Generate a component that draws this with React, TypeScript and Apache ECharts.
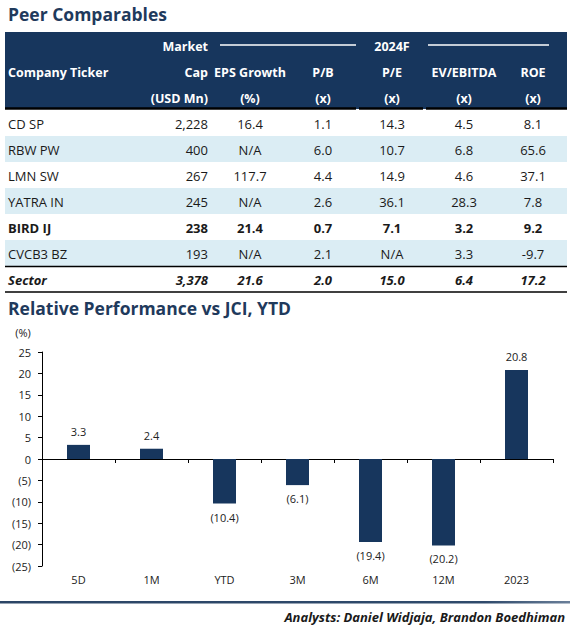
import React, { useEffect, useRef } from "react";
import * as echarts from "echarts";

// ---------- Table data ----------
const tickers = ["CD SP", "RBW PW", "LMN SW", "YATRA IN", "BIRD IJ", "CVCB3 BZ"];
const marketCap = ["2,228", "400", "267", "245", "238", "193"];
const epsGrowth = ["16.4", "N/A", "117.7", "N/A", "21.4", "N/A"];
const priceBook = ["1.1", "6.0", "4.4", "2.6", "0.7", "2.1"];
const priceEarnings = ["14.3", "10.7", "14.9", "36.1", "7.1", "N/A"];
const evEbitda = ["4.5", "6.8", "4.6", "28.3", "3.2", "3.3"];
const roe = ["8.1", "65.6", "37.1", "7.8", "9.2", "-9.7"];
const sectorRow = ["Sector", "3,378", "21.6", "2.0", "15.0", "6.4", "17.2"];
const highlightTicker = "BIRD IJ";
const headerLine1 = ["", "Market", "", "", "2024F", "", ""];
const headerLine2 = ["Company Ticker", "Cap", "EPS Growth", "P/B", "P/E", "EV/EBITDA", "ROE"];
const headerLine3 = ["", "(USD Mn)", "(%)", "(x)", "(x)", "(x)", "(x)"];

// ---------- Chart data ----------
const periods = ["5D", "1M", "YTD", "3M", "6M", "12M", "2023"];
const relPerf = [3.3, 2.4, -10.4, -6.1, -19.4, -20.2, 20.8];

const FONT = "'Open Sans', 'Noto Sans', sans-serif";
const NAVY = "#17365d";
const TITLE = "#1f3a5c";
const BAND = "#dbedf4";
const INK = "#1a1a1a";

// column layout: [x, align]
const cols: [number, "left" | "right" | "center"][] = [
  [8, "left"],
  [208, "right"],
  [250, "center"],
  [323, "center"],
  [392, "center"],
  [464, "center"],
  [533, "center"],
];

function fmtPerf(v: number) {
  return v < 0 ? `(${Math.abs(v).toFixed(1)})` : v.toFixed(1);
}

function buildGraphic() {
  const g: any[] = [];
  const L = 5;
  const R = 567;
  const txt = (
    text: string,
    x: number,
    y: number,
    align: string,
    size: number,
    fill: string,
    weight = "normal",
    style = "normal"
  ) => ({
    type: "text",
    silent: true,
    style: {
      text,
      x,
      y,
      textAlign: align,
      textVerticalAlign: "middle",
      fill,
      fontFamily: FONT,
      fontSize: size,
      fontWeight: weight,
      fontStyle: style,
    },
  });

  // Title
  g.push(txt("Peer Comparables", 8, 14, "left", 17.5, TITLE, "bold"));

  // Header background
  g.push({ type: "rect", silent: true, shape: { x: L, y: 32, width: R - L, height: 77 }, style: { fill: NAVY } });
  // white rules around 2024F
  g.push({ type: "line", silent: true, shape: { x1: 220, y1: 45, x2: 356, y2: 45 }, style: { stroke: "#ffffff", lineWidth: 1.5 } });
  g.push({ type: "line", silent: true, shape: { x1: 428, y1: 45, x2: 549, y2: 45 }, style: { stroke: "#ffffff", lineWidth: 1.5 } });

  const headerRows = [headerLine1, headerLine2, headerLine3];
  const headerY = [46, 72, 98];
  headerRows.forEach((row, ri) => {
    row.forEach((t, ci) => {
      if (!t) return;
      g.push(txt(t, cols[ci][0], headerY[ri], cols[ci][1], 12.5, "#ffffff", "bold"));
    });
  });

  // Header bottom rule (segments)
  [[L, 356], [359, 423], [426, R]].forEach(([a, b]) => {
    g.push({ type: "line", silent: true, shape: { x1: a, y1: 108.5, x2: b, y2: 108.5 }, style: { stroke: "#000000", lineWidth: 2.5 } });
  });

  // Body rows
  const top0 = 110;
  const pitch = 26;
  tickers.forEach((tk, i) => {
    const y0 = top0 + i * pitch;
    if (i % 2 === 1) {
      g.push({ type: "rect", silent: true, shape: { x: L, y: y0, width: R - L, height: pitch }, style: { fill: BAND } });
    }
    const cells = [tk, marketCap[i], epsGrowth[i], priceBook[i], priceEarnings[i], evEbitda[i], roe[i]];
    const bold = tk === highlightTicker ? "bold" : "normal";
    cells.forEach((c, ci) => {
      g.push(txt(c, cols[ci][0], y0 + 14, cols[ci][1], 13, INK, bold));
    });
  });

  // Sector row
  const sy = top0 + tickers.length * pitch;
  g.push({ type: "line", silent: true, shape: { x1: L, y1: sy + 0.5, x2: R, y2: sy + 0.5 }, style: { stroke: "#000000", lineWidth: 1.3 } });
  sectorRow.forEach((c, ci) => {
    g.push(txt(c, cols[ci][0], sy + 14, cols[ci][1], 13, INK, "bold", "italic"));
  });
  g.push({ type: "line", silent: true, shape: { x1: L, y1: sy + pitch, x2: R, y2: sy + pitch }, style: { stroke: "#000000", lineWidth: 1.3 } });

  // Chart title
  g.push(txt("Relative Performance vs JCI, YTD", 8, 308, "left", 17.5, TITLE, "bold"));
  g.push(txt("(%)", 23, 332, "center", 11, "#222222"));

  // Bottom rule
  g.push({
    type: "rect",
    silent: true,
    shape: { x: 0, y: 601, width: 570, height: 2.5 },
    style: {
      fill: new echarts.graphic.LinearGradient(0, 0, 1, 0, [
        { offset: 0, color: "#2b4566" },
        { offset: 0.85, color: "#2f4a6b" },
        { offset: 1, color: "#6a7f99" },
      ]),
    },
  });
  g.push(txt("Analysts: Daniel Widjaja, Brandon Boedhiman", 565, 617, "right", 13, "#1a1a1a", "bold", "italic"));

  return g;
}

export default function App() {
  const ref = useRef<HTMLDivElement>(null);

  useEffect(() => {
    if (!ref.current) return;
    const chart = echarts.init(ref.current, undefined, { renderer: "svg" });
    chart.setOption({
      animation: false,
      backgroundColor: "#ffffff",
      textStyle: { fontFamily: FONT },
      grid: { left: 42, right: 23, top: 352, bottom: 60, containLabel: false },
      xAxis: [
        {
          type: "category",
          data: periods,
          axisLine: { show: true, onZero: true, lineStyle: { color: "#000000", width: 1 } },
          axisTick: { show: true, length: 4, lineStyle: { color: "#000000" } },
          axisLabel: { show: false },
          splitLine: { show: false },
        },
        {
          type: "category",
          data: periods,
          position: "bottom",
          axisLine: { show: false, onZero: false },
          axisTick: { show: false },
          axisLabel: { show: true, margin: 8, fontSize: 11, color: "#222222", fontFamily: FONT },
          splitLine: { show: false },
        },
      ],
      yAxis: {
        type: "value",
        min: -25,
        max: 25,
        interval: 5,
        axisLine: { show: true, lineStyle: { color: "#000000", width: 1 } },
        axisTick: { show: true, length: 4, lineStyle: { color: "#000000" } },
        axisLabel: {
          margin: 11,
          fontSize: 11,
          color: "#222222",
          fontFamily: FONT,
          formatter: (v: number) => (v < 0 ? `(${Math.abs(v)})` : `${v}`),
        },
        splitLine: { show: false },
      },
      series: [
        {
          type: "bar",
          xAxisIndex: 0,
          barWidth: 23,
          itemStyle: { color: NAVY },
          label: {
            show: true,
            distance: 8,
            fontSize: 11,
            color: "#222222",
            fontFamily: FONT,
            formatter: (p: any) => fmtPerf(p.value),
          },
          data: relPerf.map((v) => ({
            value: v,
            label: { position: v < 0 ? "bottom" : "top" },
          })),
        },
      ],
      graphic: buildGraphic(),
    });
    return () => chart.dispose();
  }, []);

  return (
    <div
      ref={ref}
      style={{ position: "absolute", left: 0, top: 0, width: 576, height: 626, background: "#ffffff" }}
    />
  );
}
